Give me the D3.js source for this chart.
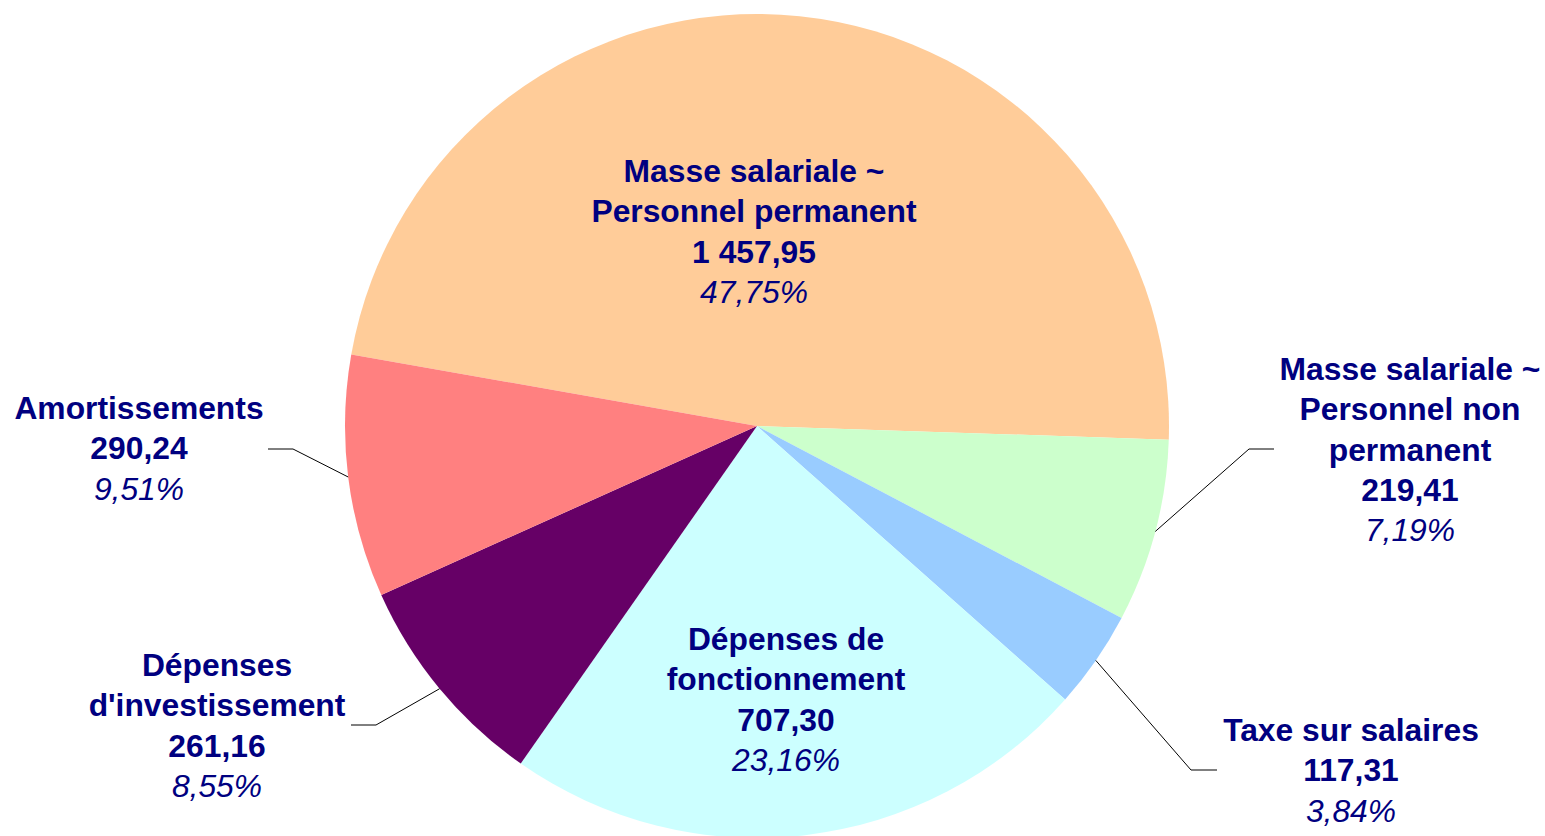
<!DOCTYPE html>
<html>
<head>
<meta charset="utf-8">
<script src="https://cdn.jsdelivr.net/npm/d3@7"></script>
<style>
  body { margin: 0; background: #fff; }
  svg text { font-family: Arial, "Liberation Sans", sans-serif; fill: #000080; }
</style>
</head>
<body>
<div id="chart_div"></div>
<script>
// data
var categories = [
    "Masse salariale ~\nPersonnel permanent",
    "Masse salariale ~\nPersonnel non\npermanent",
    "Taxe sur salaires",
    "Dépenses de\nfonctionnement",
    "Dépenses\nd'investissement",
    "Amortissements"
];
var values = [1457.95, 219.41, 117.31, 707.30, 261.16, 290.24];
var colors = ["#FFCC99", "#CCFFCC", "#99CCFF", "#CCFFFF", "#660066", "#FF8080"];

// label layout (centre of first line) and leader elbows, null = inside label
var labelPos = [[754, 171], [1410, 369], [1351, 730], [786, 639], [217, 665], [139, 408]];
var elbows = [null, [[1249, 449], [1274, 449]], [[1191, 770], [1217, 770]], null,
              [[376, 725], [351, 725]], [[293, 449], [268, 449]]];

var width = 1545, height = 836;
var cx = 757, cy = 426, radius = 412;
const FONT_SIZE = 31.8, LINE_H = 40.3;

var svg = d3.select("#chart_div").append("svg")
    .attr("width", width)
    .attr("height", height);

var locale = d3.formatLocale({decimal: ",", thousands: "\u00a0", grouping: [3], currency: ["", ""]});
var fmtVal = locale.format(",.2f");
var fmtPct = locale.format(".2f");
var total = d3.sum(values);

var startAngle = -80 * Math.PI / 180;
var pie = d3.pie()
    .sort(null)
    .startAngle(startAngle)
    .endAngle(startAngle + 2 * Math.PI)
    .value(function(d) { return d; });

var arcs = pie(values);
var arc = d3.arc().innerRadius(0).outerRadius(radius);

var g = svg.append("g").attr("transform", "translate(" + cx + "," + cy + ")");

g.selectAll("path.slice")
    .data(arcs)
    .enter()
    .append("path")
    .attr("class", "slice")
    .attr("d", arc)
    .style("fill", function(d, i) { return colors[i]; });

// leader lines
arcs.forEach(function(d, i) {
    if (!elbows[i]) return;
    var mid = (d.startAngle + d.endAngle) / 2;
    var p0 = [cx + radius * Math.sin(mid), cy - radius * Math.cos(mid)];
    svg.append("path")
        .attr("d", d3.line()([p0, elbows[i][0], elbows[i][1]]))
        .style("fill", "none")
        .style("stroke", "#000")
        .style("stroke-width", 1);
});

// labels
arcs.forEach(function(d, i) {
    var lines = categories[i].split("\n").map(function(t) { return {t: t, bold: true, italic: false}; });
    lines.push({t: fmtVal(values[i]), bold: true, italic: false});
    lines.push({t: fmtPct(values[i] / total * 100) + "%", bold: false, italic: true});

    var txt = svg.append("text")
        .attr("text-anchor", "middle")
        .style("font-size", FONT_SIZE + "px");
    lines.forEach(function(l, k) {
        txt.append("tspan")
            .attr("x", labelPos[i][0])
            .attr("y", labelPos[i][1] + k * LINE_H)
            .attr("dy", "0.35em")
            .style("font-weight", l.bold ? "bold" : "normal")
            .style("font-style", l.italic ? "italic" : "normal")
            .text(l.t);
    });
});
</script>
</body>
</html>
